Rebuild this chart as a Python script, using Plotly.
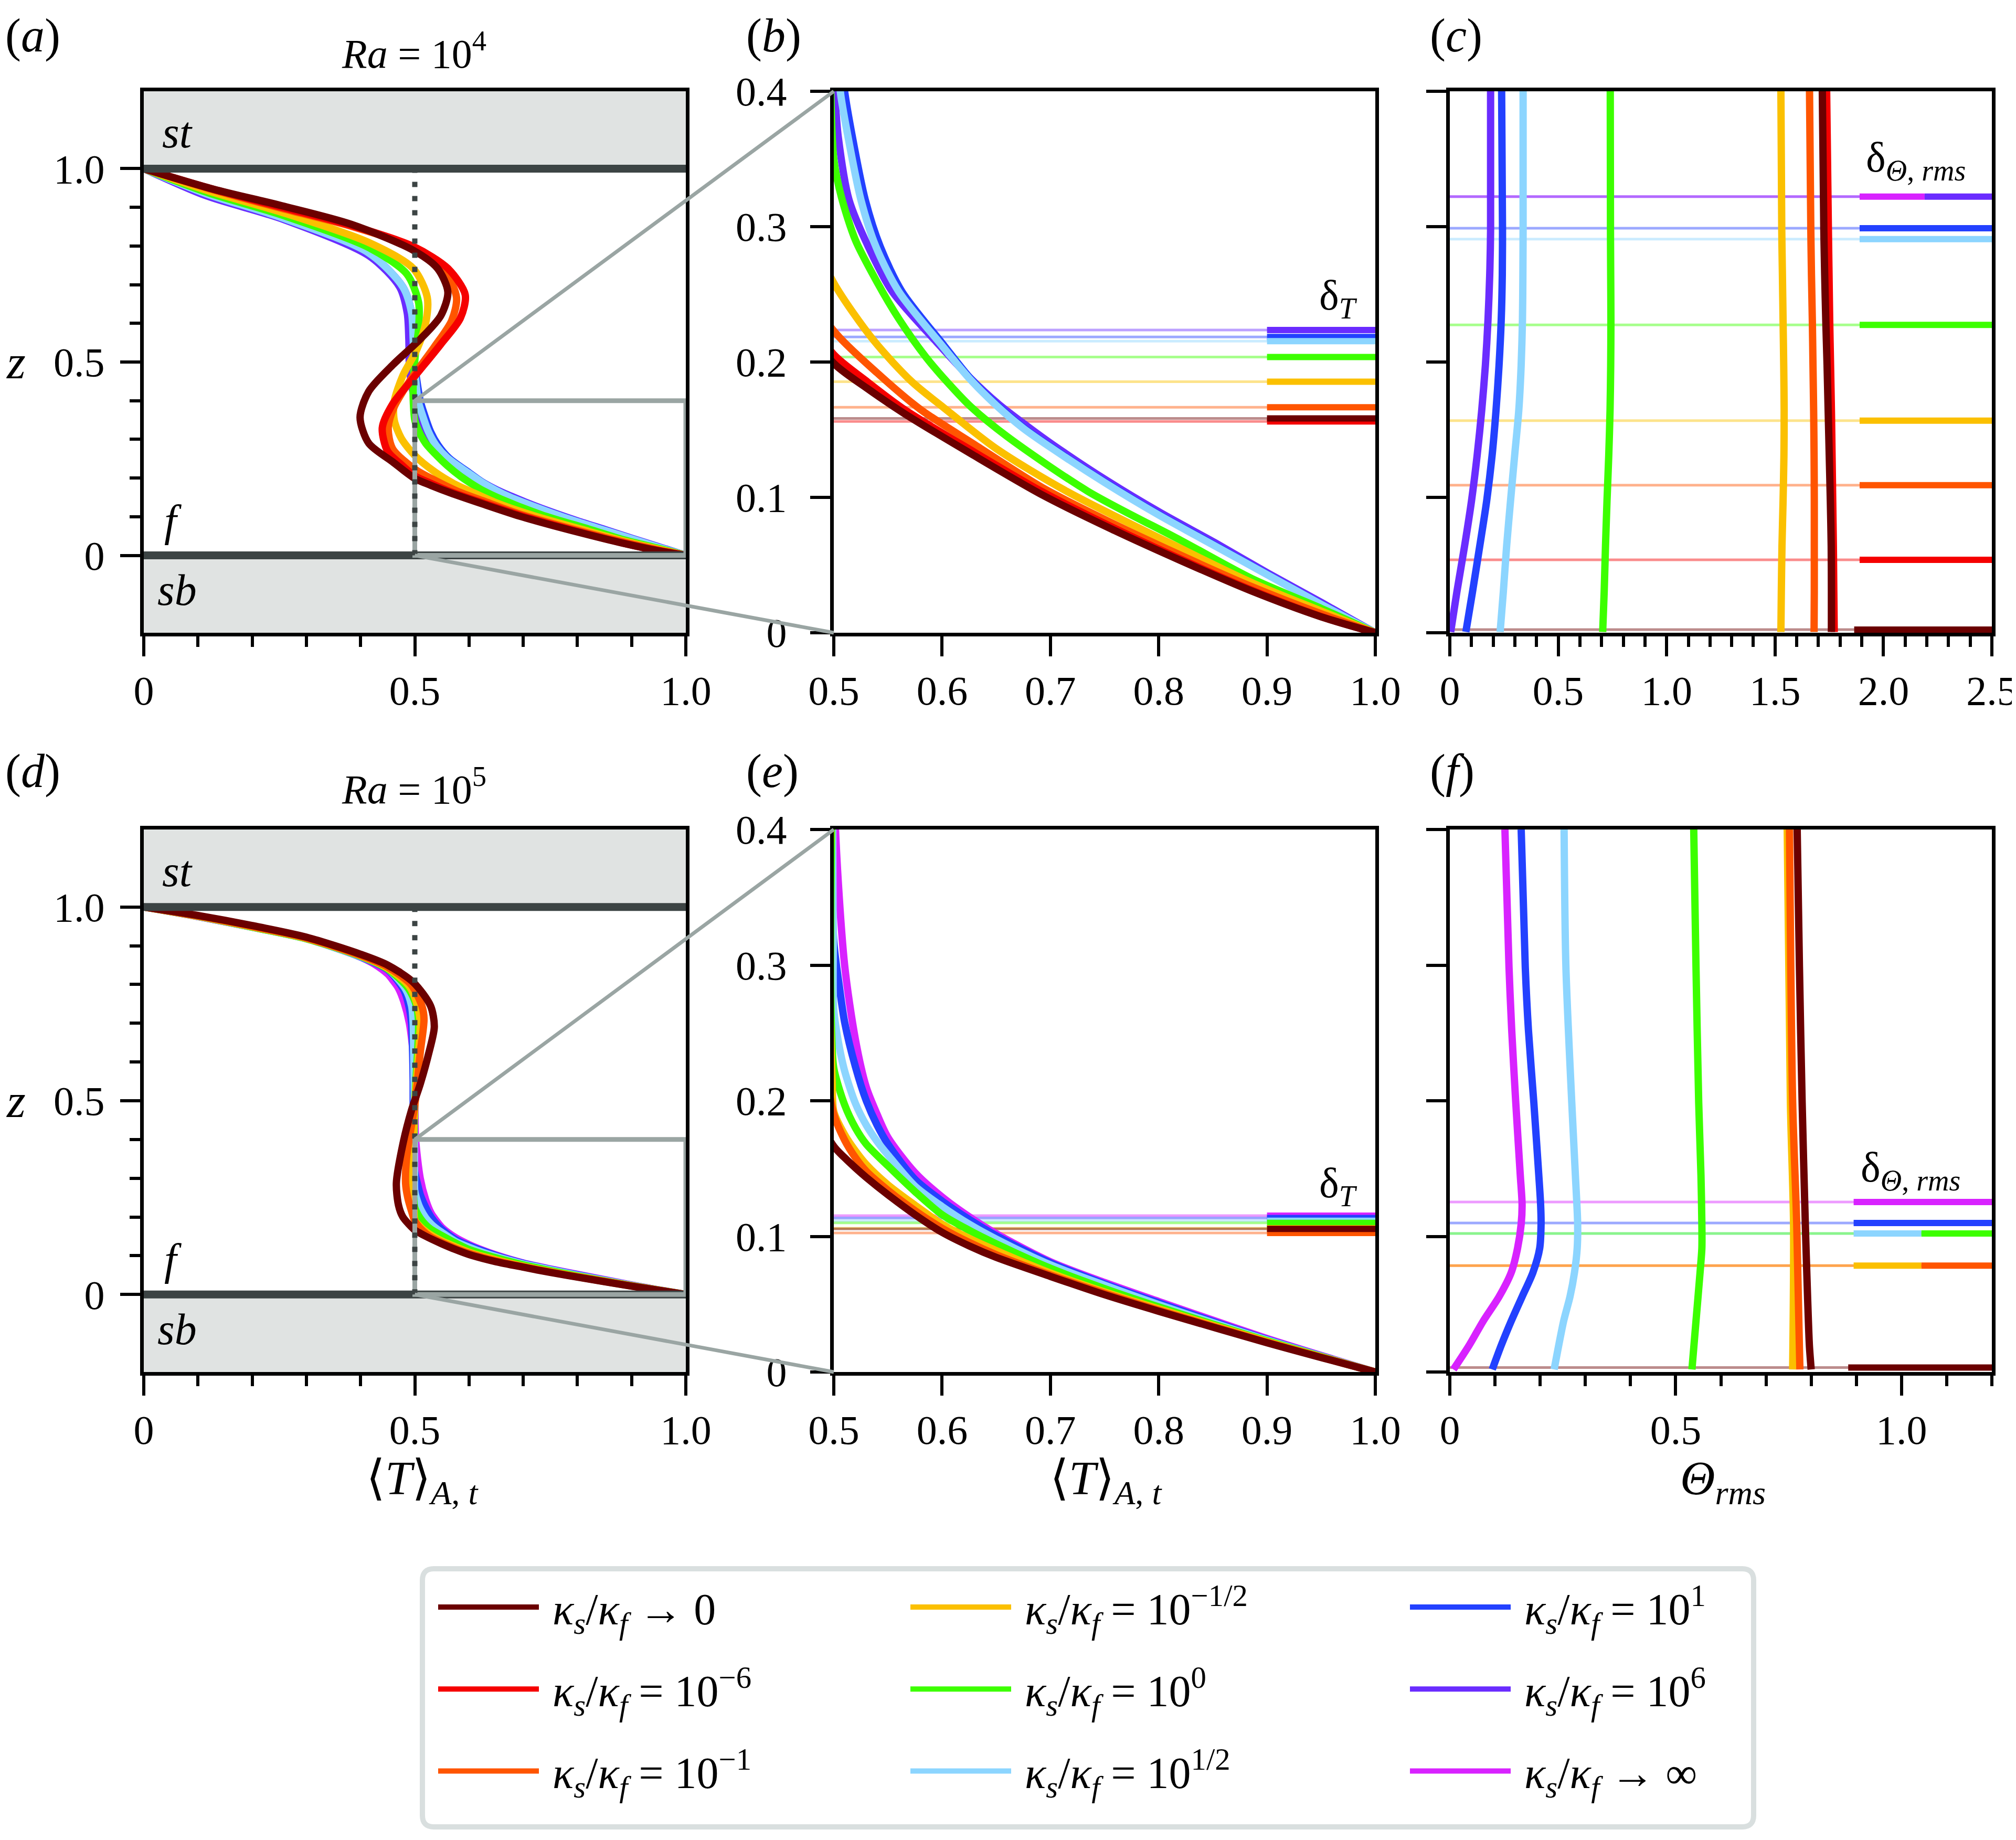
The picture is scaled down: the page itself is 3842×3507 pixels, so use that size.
import plotly.graph_objects as go

W, H = 3842, 3507
FONT = "Liberation Serif, DejaVu Serif, serif"

# ---------------- cases (kappa_s / kappa_f) ----------------
case_colors = ["#6b0000", "#f50000", "#ff5500", "#fbc000", "#3cff00",
               "#8cd5ff", "#2341ff", "#6a2cff", "#d822ff"]
K = "<i>κ</i><sub><i>s</i></sub>/<i>κ</i><sub><i>f</i></sub>"
case_labels = [K + " → 0", K + " = 10<sup>−6</sup>", K + " = 10<sup>−1</sup>",
               K + " = 10<sup>−1/2</sup>", K + " = 10<sup>0</sup>", K + " = 10<sup>1/2</sup>",
               K + " = 10<sup>1</sup>", K + " = 10<sup>6</sup>", K + " → ∞"]

# ---------------- Ra = 10^4 : <T>_{A,t}(z) ----------------
ra4_k0_z = [1.0, 0.947, 0.904, 0.856, 0.789, 0.742, 0.681, 0.620, 0.559, 0.492, 0.424, 0.357, 0.290, 0.242, 0.199, 0.181, 0.162, 0.1314, 0.1017, 0.0764, 0.053, 0.0309, 0.0118, 0.0]
ra4_k0_T = [0.0, 0.128, 0.255, 0.383, 0.497, 0.542, 0.561, 0.548, 0.510, 0.459, 0.415, 0.399, 0.415, 0.459, 0.500, 0.530, 0.565, 0.6285, 0.6928, 0.757, 0.8213, 0.8856, 0.9499, 1.0]
ra4_km6_z = [1.0, 0.948, 0.900, 0.853, 0.799, 0.742, 0.674, 0.613, 0.546, 0.458, 0.391, 0.330, 0.269, 0.235, 0.2055, 0.186, 0.165, 0.134, 0.104, 0.078, 0.054, 0.0315, 0.012, 0.0]
ra4_km6_T = [0.0, 0.125, 0.255, 0.383, 0.497, 0.561, 0.593, 0.584, 0.548, 0.497, 0.459, 0.440, 0.450, 0.475, 0.500, 0.530, 0.565, 0.6285, 0.6928, 0.757, 0.8213, 0.8856, 0.9499, 1.0]
ra4_km1_z = [1.0, 0.947, 0.897, 0.851, 0.796, 0.735, 0.667, 0.607, 0.539, 0.452, 0.384, 0.330, 0.276, 0.223, 0.192, 0.165, 0.139, 0.107, 0.081, 0.057, 0.034, 0.014, 0.0]
ra4_km1_T = [0.0, 0.124, 0.255, 0.383, 0.497, 0.555, 0.577, 0.568, 0.536, 0.491, 0.462, 0.451, 0.459, 0.500, 0.540, 0.580, 0.630, 0.693, 0.757, 0.821, 0.886, 0.950, 1.0]
ra4_km05_z = [1.0, 0.942, 0.887, 0.809, 0.742, 0.667, 0.600, 0.533, 0.465, 0.398, 0.350, 0.303, 0.2584, 0.2158, 0.1855, 0.1666, 0.136, 0.1045, 0.062, 0.037, 0.016, 0.0]
ra4_km05_T = [0.0, 0.120, 0.255, 0.415, 0.497, 0.523, 0.520, 0.504, 0.478, 0.462, 0.462, 0.475, 0.500, 0.537, 0.572, 0.601, 0.650, 0.715, 0.821, 0.886, 0.950, 1.0]
ra4_k00_z = [1.0, 0.938, 0.880, 0.796, 0.728, 0.654, 0.587, 0.519, 0.438, 0.390, 0.350, 0.322, 0.290, 0.259, 0.232, 0.2037, 0.1855, 0.1666, 0.145, 0.1045, 0.068, 0.040, 0.018, 0.0]
ra4_k00_T = [0.0, 0.118, 0.255, 0.415, 0.485, 0.507, 0.507, 0.501, 0.497, 0.4975, 0.500, 0.507, 0.520, 0.540, 0.560, 0.585, 0.6044, 0.627, 0.660, 0.7346, 0.821, 0.886, 0.950, 1.0]
ra4_kp05_z = [1.0, 0.935, 0.873, 0.782, 0.694, 0.627, 0.559, 0.492, 0.450, 0.400, 0.367, 0.320, 0.285, 0.252, 0.212, 0.188, 0.168, 0.151, 0.137, 0.111, 0.087, 0.065, 0.043, 0.021, 0.0]
ra4_kp05_T = [0.0, 0.115, 0.255, 0.415, 0.478, 0.494, 0.497, 0.499, 0.502, 0.506, 0.513, 0.525, 0.539, 0.560, 0.600, 0.625, 0.650, 0.675, 0.700, 0.750, 0.800, 0.850, 0.900, 0.950, 1.0]
ra4_kp1_z = [1.0, 0.935, 0.873, 0.782, 0.694, 0.627, 0.559, 0.492, 0.450, 0.400, 0.367, 0.320, 0.285, 0.252, 0.212, 0.188, 0.168, 0.151, 0.137, 0.1115, 0.0875, 0.0655, 0.0433, 0.0212, 0.0]
ra4_kp1_T = [0.0, 0.115, 0.255, 0.415, 0.478, 0.494, 0.497, 0.500, 0.504, 0.510, 0.517, 0.529, 0.543, 0.563, 0.602, 0.626, 0.651, 0.676, 0.701, 0.750, 0.800, 0.850, 0.900, 0.950, 1.0]
ra4_kp6_z = [1.0, 0.930, 0.870, 0.775, 0.694, 0.627, 0.559, 0.492, 0.440, 0.400, 0.367, 0.320, 0.285, 0.252, 0.212, 0.189, 0.169, 0.153, 0.1385, 0.1125, 0.0885, 0.0665, 0.044, 0.022, 0.0]
ra4_kp6_T = [0.0, 0.115, 0.255, 0.415, 0.472, 0.486, 0.489, 0.490, 0.494, 0.5005, 0.504, 0.514, 0.532, 0.554, 0.598, 0.625, 0.652, 0.678, 0.703, 0.752, 0.802, 0.852, 0.901, 0.951, 1.0]

# ---------------- Ra = 10^4 : Theta_rms(z) ----------------
ra4_th_z = [0.0006, 0.0306, 0.064, 0.0974, 0.131, 0.1641, 0.1975, 0.2308, 0.2642, 0.2975, 0.4]
ra4_th_k0 = [1.760, 1.760, 1.759, 1.755, 1.750, 1.745, 1.740, 1.734, 1.729, 1.725, 1.718]
ra4_th_km6 = [1.773, 1.771, 1.769, 1.766, 1.763, 1.760, 1.756, 1.752, 1.749, 1.746, 1.738]
ra4_th_km1 = [1.680, 1.681, 1.681, 1.681, 1.680, 1.678, 1.675, 1.672, 1.668, 1.665, 1.659]
ra4_th_km05 = [1.527, 1.529, 1.532, 1.537, 1.541, 1.542, 1.540, 1.537, 1.534, 1.531, 1.527]
ra4_th_k00 = [0.705, 0.712, 0.718, 0.725, 0.733, 0.739, 0.742, 0.743, 0.742, 0.741, 0.740]
ra4_th_kp05 = [0.232, 0.247, 0.262, 0.280, 0.299, 0.318, 0.329, 0.335, 0.337, 0.338, 0.338]
ra4_th_kp1 = [0.074, 0.105, 0.138, 0.170, 0.195, 0.213, 0.227, 0.237, 0.242, 0.243, 0.239]
ra4_th_kp6 = [0.004, 0.033, 0.068, 0.100, 0.126, 0.147, 0.164, 0.176, 0.184, 0.188, 0.188]

# boundary-layer thicknesses (Ra = 10^4), order: ->0, -6, -1, -1/2, 0, 1/2, 1, 6, ->inf
ra4_delta_T = [0.1583, 0.1561, 0.1666, 0.1855, 0.2037, 0.2154, 0.2185, 0.2236, None]
ra4_delta_Th = [0.0023, 0.0539, 0.1090, 0.1567, 0.2274, 0.2908, 0.2988, 0.3222, 0.3222]

# ---------------- Ra = 10^5 : <T>_{A,t}(z) ----------------
ra5_k0_z = [1.0, 0.978, 0.952, 0.922, 0.878, 0.850, 0.806, 0.745, 0.691, 0.624, 0.543, 0.476, 0.388, 0.287, 0.230, 0.200, 0.1664, 0.158, 0.1505, 0.1435, 0.1307, 0.116, 0.103, 0.093, 0.0845, 0.0705, 0.057, 0.0448, 0.0216, 0.0]
ra5_k0_T = [0.0, 0.1, 0.2, 0.3, 0.4, 0.45, 0.497, 0.529, 0.536, 0.526, 0.510, 0.494, 0.478, 0.466, 0.470, 0.478, 0.5, 0.51, 0.52, 0.53, 0.55, 0.575, 0.6, 0.625, 0.65, 0.7, 0.75, 0.8, 0.9, 1.0]
ra5_km1_z = [1.0, 0.977, 0.950, 0.920, 0.875, 0.845, 0.800, 0.745, 0.711, 0.624, 0.550, 0.489, 0.420, 0.355, 0.287, 0.250, 0.215, 0.190, 0.171, 0.158, 0.148, 0.134, 0.119, 0.106, 0.0955, 0.0865, 0.0715, 0.058, 0.0455, 0.022, 0.0]
ra5_km1_T = [0.0, 0.1, 0.2, 0.3, 0.4, 0.45, 0.493, 0.513, 0.517, 0.510, 0.505, 0.500, 0.492, 0.485, 0.483, 0.487, 0.494, 0.5, 0.51, 0.52, 0.53, 0.55, 0.575, 0.6, 0.625, 0.65, 0.7, 0.75, 0.8, 0.9, 1.0]
ra5_km05_z = [1.0, 0.976, 0.949, 0.919, 0.874, 0.842, 0.795, 0.745, 0.700, 0.624, 0.550, 0.490, 0.400, 0.300, 0.250, 0.215, 0.192, 0.175, 0.163, 0.153, 0.138, 0.123, 0.109, 0.0985, 0.0895, 0.073, 0.059, 0.0465, 0.0225, 0.0]
ra5_km05_T = [0.0, 0.1, 0.2, 0.3, 0.4, 0.45, 0.490, 0.505, 0.510, 0.507, 0.503, 0.500, 0.497, 0.4955, 0.497, 0.4985, 0.5, 0.51, 0.52, 0.53, 0.55, 0.575, 0.6, 0.625, 0.65, 0.7, 0.75, 0.8, 0.9, 1.0]
ra5_k00_z = [1.0, 0.976, 0.948, 0.918, 0.873, 0.840, 0.790, 0.745, 0.700, 0.624, 0.550, 0.490, 0.400, 0.300, 0.250, 0.224, 0.197, 0.180, 0.168, 0.152, 0.133, 0.116, 0.1045, 0.0945, 0.0765, 0.0615, 0.048, 0.023, 0.0]
ra5_k00_T = [0.0, 0.1, 0.2, 0.3, 0.4, 0.45, 0.488, 0.503, 0.507, 0.505, 0.502, 0.500, 0.498, 0.497, 0.498, 0.5, 0.51, 0.52, 0.53, 0.55, 0.575, 0.6, 0.625, 0.65, 0.7, 0.75, 0.8, 0.9, 1.0]
ra5_kp05_z = [1.0, 0.976, 0.948, 0.918, 0.872, 0.840, 0.788, 0.745, 0.700, 0.624, 0.500, 0.400, 0.320, 0.267, 0.240, 0.222, 0.198, 0.182, 0.170, 0.160, 0.137, 0.122, 0.109, 0.098, 0.079, 0.064, 0.0497, 0.0236, 0.0]
ra5_kp05_T = [0.0, 0.1, 0.2, 0.3, 0.4, 0.45, 0.483, 0.494, 0.497, 0.498, 0.499, 0.499, 0.4995, 0.5, 0.505, 0.51, 0.52, 0.53, 0.54, 0.55, 0.575, 0.6, 0.625, 0.65, 0.7, 0.75, 0.8, 0.9, 1.0]
ra5_kp1_z = [1.0, 0.9755, 0.948, 0.918, 0.871, 0.838, 0.785, 0.745, 0.700, 0.624, 0.550, 0.450, 0.370, 0.317, 0.285, 0.258, 0.225, 0.200, 0.182, 0.168, 0.142, 0.126, 0.1125, 0.1005, 0.0805, 0.065, 0.051, 0.024, 0.0]
ra5_kp1_T = [0.0, 0.1, 0.2, 0.3, 0.4, 0.45, 0.480, 0.489, 0.494, 0.496, 0.497, 0.497, 0.498, 0.5, 0.505, 0.51, 0.52, 0.53, 0.54, 0.55, 0.575, 0.6, 0.625, 0.65, 0.7, 0.75, 0.8, 0.9, 1.0]
ra5_kinf_z = [1.0, 0.9753, 0.948, 0.9187, 0.898, 0.871, 0.853, 0.827, 0.810, 0.790, 0.755, 0.700, 0.600, 0.500, 0.400, 0.300, 0.245, 0.210, 0.190, 0.173, 0.147, 0.129, 0.1145, 0.102, 0.0813, 0.066, 0.052, 0.0247, 0.0]
ra5_kinf_T = [0.0, 0.1, 0.2, 0.3, 0.35, 0.4, 0.425, 0.45, 0.46, 0.47, 0.48, 0.49, 0.4984, 0.5, 0.5016, 0.51, 0.52, 0.53, 0.54, 0.55, 0.575, 0.6, 0.625, 0.65, 0.7, 0.75, 0.8, 0.9, 1.0]

# ---------------- Ra = 10^5 : Theta_rms(z) ----------------
ra5_th_k0_z = [0.0019, 0.0198, 0.0555, 0.1092, 0.1986, 0.2988, 0.4]
ra5_th_k0 = [0.800, 0.796, 0.792, 0.787, 0.780, 0.774, 0.769]
ra5_th_km1_z = [0.0019, 0.1092, 0.1986, 0.4]
ra5_th_km1 = [0.775, 0.768, 0.759, 0.752]
ra5_th_km05_z = [0.0019, 0.1092, 0.1986, 0.4]
ra5_th_km05 = [0.759, 0.761, 0.754, 0.747]
ra5_th_k00_z = [0.0019, 0.0376, 0.0734, 0.0913, 0.1092, 0.145, 0.1986, 0.2988, 0.4]
ra5_th_k00 = [0.536, 0.545, 0.554, 0.558, 0.558, 0.556, 0.551, 0.545, 0.540]
ra5_th_kp05_z = [0.0019, 0.0376, 0.0555, 0.0734, 0.0913, 0.1092, 0.145, 0.1986, 0.2988, 0.4]
ra5_th_kp05 = [0.231, 0.252, 0.266, 0.276, 0.282, 0.283, 0.278, 0.270, 0.257, 0.253]
ra5_th_kp1_z = [0.0019, 0.0198, 0.0376, 0.0555, 0.0734, 0.0913, 0.1092, 0.1235, 0.145, 0.1986, 0.2523, 0.2988, 0.4]
ra5_th_kp1 = [0.094, 0.114, 0.136, 0.160, 0.184, 0.199, 0.202, 0.201, 0.197, 0.186, 0.174, 0.167, 0.158]
ra5_th_kinf_z = [0.0019, 0.0198, 0.0376, 0.0555, 0.0734, 0.0913, 0.1092, 0.1235, 0.145, 0.1986, 0.2523, 0.2988, 0.4]
ra5_th_kinf = [0.008, 0.043, 0.074, 0.109, 0.136, 0.150, 0.158, 0.160, 0.156, 0.146, 0.137, 0.131, 0.122]

ra5_delta_T = [0.1055, None, 0.1025, 0.1060, 0.1100, 0.1115, 0.1135, None, 0.1153]
ra5_delta_Th = [0.0033, None, 0.0784, 0.0784, 0.1021, 0.1021, 0.1099, None, 0.1253]

# extents of the short delta markers on the right of panels (c) and (f)
ra4_mark_lo = [1.865, 1.89, 1.89, 1.89, 1.89, 1.89, 1.89, 2.19, 1.89]
ra4_mark_hi = [2.5, 2.5, 2.5, 2.5, 2.5, 2.5, 2.5, 2.5, 2.19]
ra5_mark_lo = [0.882, None, 1.044, 0.894, 1.044, 0.894, 0.894, None, 0.894]
ra5_mark_hi = [1.2, None, 1.2, 1.044, 1.2, 1.044, 1.2, None, 1.2]

# tick values / labels
tick_a_vals = [0, 0.5, 1.0]
tick_a_text = ["0", "0.5", "1.0"]
tick_b_vals = [0.5, 0.6, 0.7, 0.8, 0.9, 1.0]
tick_b_text = ["0.5", "0.6", "0.7", "0.8", "0.9", "1.0"]
tick_z_vals = [0, 0.1, 0.2, 0.3, 0.4]
tick_z_text = ["0", "0.1", "0.2", "0.3", "0.4"]
tick_c_vals = [0, 0.5, 1.0, 1.5, 2.0, 2.5]
tick_c_text = ["0", "0.5", "1.0", "1.5", "2.0", "2.5"]

# ---------------- assemble tables ----------------
ra4_prof = [(ra4_k0_T, ra4_k0_z), (ra4_km6_T, ra4_km6_z), (ra4_km1_T, ra4_km1_z),
            (ra4_km05_T, ra4_km05_z), (ra4_k00_T, ra4_k00_z), (ra4_kp05_T, ra4_kp05_z),
            (ra4_kp1_T, ra4_kp1_z), (ra4_kp6_T, ra4_kp6_z), None]
ra4_theta = [(ra4_th_k0, ra4_th_z), (ra4_th_km6, ra4_th_z), (ra4_th_km1, ra4_th_z),
             (ra4_th_km05, ra4_th_z), (ra4_th_k00, ra4_th_z), (ra4_th_kp05, ra4_th_z),
             (ra4_th_kp1, ra4_th_z), (ra4_th_kp6, ra4_th_z), None]
ra5_prof = [(ra5_k0_T, ra5_k0_z), None, (ra5_km1_T, ra5_km1_z), (ra5_km05_T, ra5_km05_z),
            (ra5_k00_T, ra5_k00_z), (ra5_kp05_T, ra5_kp05_z), (ra5_kp1_T, ra5_kp1_z), None,
            (ra5_kinf_T, ra5_kinf_z)]
ra5_theta = [(ra5_th_k0, ra5_th_k0_z), None, (ra5_th_km1, ra5_th_km1_z), (ra5_th_km05, ra5_th_km05_z),
             (ra5_th_k00, ra5_th_k00_z), (ra5_th_kp05, ra5_th_kp05_z), (ra5_th_kp1, ra5_th_kp1_z), None,
             (ra5_th_kinf, ra5_th_kinf_z)]

rows = [
    dict(prof=ra4_prof, theta=ra4_theta, dT=ra4_delta_T, dTh=ra4_delta_Th,
         lo=ra4_mark_lo, hi=ra4_mark_hi, thmax=2.5),
    dict(prof=ra5_prof, theta=ra5_theta, dT=ra5_delta_T, dTh=ra5_delta_Th,
         lo=ra5_mark_lo, hi=ra5_mark_hi, thmax=1.2),
]

# ---------------- layout geometry (pixels) ----------------
col_px = [(266, 1299), (1581, 2613), (2755, 3788)]
row_px = [(166, 1198), (1573, 2607)]
x_ranges = [[0, 1], [0.5, 1.0], [0, 2.5], [0, 1], [0.5, 1.0], [0, 1.2]]
y_ranges = [[-0.2, 1.2], [0, 0.4], [0, 0.4], [-0.2, 1.2], [0, 0.4], [0, 0.4]]
x_ticks = [(tick_a_vals, tick_a_text), (tick_b_vals, tick_b_text), (tick_c_vals, tick_c_text),
           (tick_a_vals, tick_a_text), (tick_b_vals, tick_b_text), (tick_a_vals, tick_a_text)]

LW = 14
fig = go.Figure()


def axn(p):
    return ("x" if p == 0 else f"x{p+1}"), ("y" if p == 0 else f"y{p+1}")


def rgba(hexc, a):
    h = hexc.lstrip("#")
    return f"rgba({int(h[0:2],16)},{int(h[2:4],16)},{int(h[4:6],16)},{a})"


def add_line(p, xs, ys, color, width, shape="linear"):
    xa, ya = axn(p)
    fig.add_trace(go.Scatter(x=xs, y=ys, mode="lines",
                             line=dict(color=color, width=width, shape=shape, smoothing=0.8),
                             xaxis=xa, yaxis=ya, showlegend=False, hoverinfo="skip"))


order = list(range(len(case_colors)))[::-1]
for r, row in enumerate(rows):
    pa, pb, pc = 3 * r, 3 * r + 1, 3 * r + 2
    for i in order:
        c = case_colors[i]
        if row["dT"][i] is not None:
            add_line(pb, [0.5, 1.0], [row["dT"][i]] * 2, rgba(c, 0.45), 5)
        if row["dTh"][i] is not None:
            add_line(pc, [0, row["thmax"]], [row["dTh"][i]] * 2, rgba(c, 0.45), 5)
    for i in order:
        c = case_colors[i]
        if row["prof"][i] is not None:
            T, z = row["prof"][i]
            add_line(pa, T, z, c, LW, "spline")
            add_line(pb, T, z, c, LW, "spline")
        if row["theta"][i] is not None:
            th, z = row["theta"][i]
            add_line(pc, th, z, c, LW, "spline")
    for i in order:
        c = case_colors[i]
        if row["dT"][i] is not None:
            add_line(pb, [0.9, 1.0], [row["dT"][i]] * 2, c, 12)
        if row["dTh"][i] is not None and row["lo"][i] is not None:
            add_line(pc, [row["lo"][i], row["hi"][i]], [row["dTh"][i]] * 2, c, 12)

# legend entries (three columns -> three legends)
legend_ids = ["legend", "legend2", "legend3"]
for i, (c, lab) in enumerate(zip(case_colors, case_labels)):
    fig.add_trace(go.Scatter(x=[None], y=[None], mode="lines", line=dict(color=c, width=16),
                             name="\u00a0" + lab, legend=legend_ids[i // 3], legendgroup=f"g{i}",
                             showlegend=True, xaxis="x", yaxis="y", hoverinfo="skip"))

# ---------------- axes ----------------
layout_axes = {}
tick_font = dict(family=FONT, size=78, color="black")
minor_style = dict(ticks="outside", ticklen=20, tickwidth=6, tickcolor="black")
for p in range(6):
    col, row = p % 3, p // 3
    x0, x1 = col_px[col]
    y0, y1 = row_px[row]
    xa, ya = axn(p)
    xkey = "xaxis" if p == 0 else f"xaxis{p+1}"
    ykey = "yaxis" if p == 0 else f"yaxis{p+1}"
    common = dict(showline=True, linecolor="black", linewidth=7, mirror=True,
                  ticks="outside", tickwidth=6, ticklen=38, tickcolor="black",
                  showgrid=False, zeroline=False, tickfont=tick_font, fixedrange=True)
    tv, tt = x_ticks[p]
    xd = dict(common, domain=[x0 / W, x1 / W], range=x_ranges[p], anchor=ya,
              tickmode="array", tickvals=tv, showticklabels=False)
    yd = dict(common, domain=[1 - y1 / H, 1 - y0 / H], range=y_ranges[p], anchor=xa,
              ticklabelstandoff=(14 if col == 0 else 29))
    if col == 0:
        mv = [0.1, 0.2, 0.3, 0.4, 0.6, 0.7, 0.8, 0.9]
        xd.update(minor=dict(minor_style, tickmode="array", tickvals=mv))
        yd.update(tickmode="array", tickvals=tick_a_vals, ticktext=tick_a_text,
                  minor=dict(minor_style, tickmode="array", tickvals=mv))
    elif col == 1:
        yd.update(tickmode="array", tickvals=tick_z_vals, ticktext=tick_z_text)
    else:
        yd.update(tickmode="array", tickvals=tick_z_vals, showticklabels=False)
        if row == 0:
            xd.update(minor=dict(minor_style, tickmode="array",
                                 tickvals=[v / 10 for v in range(1, 25) if v % 5]))
        else:
            xd.update(minor=dict(minor_style, tickmode="array",
                                 tickvals=[0.1, 0.2, 0.3, 0.4, 0.6, 0.7, 0.8, 0.9, 1.1, 1.2]))
    layout_axes[xkey] = xd
    layout_axes[ykey] = yd
    # companion axis carrying the x tick labels (no tick marks, no line)
    lk = f"xaxis{p+7}"
    layout_axes[lk] = dict(overlaying=xa, anchor=ya, side="bottom", range=x_ranges[p],
                           tickmode="array", tickvals=tv, ticktext=tt, ticks="",
                           showline=False, showgrid=False, zeroline=False,
                           tickfont=tick_font, fixedrange=True, ticklabelstandoff=58)
    fig.add_trace(go.Scatter(x=[None], y=[None], mode="lines", xaxis=f"x{p+7}", yaxis=ya,
                             showlegend=False, hoverinfo="skip"))


def paper_pt(p, x, y):
    col, row = p % 3, p // 3
    x0, x1 = col_px[col]
    y0, y1 = row_px[row]
    rx, ry = x_ranges[p], y_ranges[p]
    px = x0 + (x - rx[0]) / (rx[1] - rx[0]) * (x1 - x0)
    py = y1 - (y - ry[0]) / (ry[1] - ry[0]) * (y1 - y0)
    return px / W, 1 - py / H


def P(xpx, ypx):
    return xpx / W, 1 - ypx / H


shapes = []
WALL = "#3c4444"
ZOOM = "#9aa5a3"
for pa in (0, 3):
    xa, ya = axn(pa)
    shapes += [
        dict(type="rect", xref=xa, yref=ya, x0=0, x1=1, y0=1, y1=1.2, fillcolor="#e0e3e2",
             line=dict(width=0), layer="below"),
        dict(type="rect", xref=xa, yref=ya, x0=0, x1=1, y0=-0.2, y1=0, fillcolor="#e0e3e2",
             line=dict(width=0), layer="below"),
        dict(type="line", xref=xa, yref=ya, x0=0, x1=1, y0=1, y1=1, line=dict(color=WALL, width=15), layer="above"),
        dict(type="line", xref=xa, yref=ya, x0=0, x1=1, y0=0, y1=0, line=dict(color=WALL, width=15), layer="above"),
        dict(type="rect", xref=xa, yref=ya, x0=0.5, x1=1.0, y0=0, y1=0.4,
             line=dict(color=ZOOM, width=9), fillcolor="rgba(0,0,0,0)", layer="above"),
        dict(type="line", xref=xa, yref=ya, x0=0.5, x1=0.5, y0=0, y1=1,
             line=dict(color=WALL, width=10, dash="10px,17px"), layer="above"),
    ]
    for zz in (0.4, 0.0):
        xs, ys = paper_pt(pa, 0.5, zz)
        xe, ye = paper_pt(pa + 1, 0.5, zz)
        shapes.append(dict(type="line", xref="paper", yref="paper", x0=xs, y0=ys, x1=xe, y1=ye,
                           line=dict(color=ZOOM, width=7), layer="above"))

# legend frame (rounded)
lx0, ly0 = P(797, 2982)
lx1, ly1 = P(3334, 3474)
rx, ry = 22 / W, 22 / H
path = (f"M{lx0+rx},{ly0} L{lx1-rx},{ly0} Q{lx1},{ly0} {lx1},{ly0-ry} "
        f"L{lx1},{ly1+ry} Q{lx1},{ly1} {lx1-rx},{ly1} L{lx0+rx},{ly1} Q{lx0},{ly1} {lx0},{ly1+ry} "
        f"L{lx0},{ly0-ry} Q{lx0},{ly0} {lx0+rx},{ly0} Z")
shapes.append(dict(type="path", xref="paper", yref="paper", path=path,
                   line=dict(color="#d9dfdf", width=10), fillcolor="white", layer="below"))

# ---------------- annotations ----------------
ann = []


def A(text, x, y, size, xanchor="center", yanchor="middle", xref="paper", yref="paper"):
    ann.append(dict(text=text, x=x, y=y, xref=xref, yref=yref, xanchor=xanchor, yanchor=yanchor,
                    showarrow=False, font=dict(family=FONT, size=size, color="black")))


for lab, xpx, ypx in [("a", 0, 60), ("b", 1412, 60), ("c", 2715, 60),
                      ("d", 0, 1462), ("e", 1412, 1462), ("f", 2715, 1462)]:
    A(f"(<i>{lab}</i>)", *P(xpx, ypx), 90, xanchor="left")

A("<i>Ra</i> = 10<sup>4</sup>", *P(781, 88), 78)
A("<i>Ra</i> = 10<sup>5</sup>", *P(781, 1490), 78)
A("<i>z</i>", *P(22, 682), 92)
A("<i>z</i>", *P(22, 2090), 92)
A("⟨<i>T</i>⟩<sub><i>A</i>, <i>t</i></sub>", *P(797, 2815), 92)
A("⟨<i>T</i>⟩<sub><i>A</i>, <i>t</i></sub>", *P(2100, 2815), 92)
A("<i>Θ</i><sub><i>rms</i></sub>", *P(3275, 2815), 92)

for pa in (0, 3):
    xa, ya = axn(pa)
    A("<i>st</i>", 0.032, 1.093, 84, xanchor="left", xref=xa, yref=ya)
    A("<i>f</i>", 0.036, 0.09, 84, xanchor="left", xref=xa, yref=ya)
    A("<i>sb</i>", 0.023, -0.09, 84, xanchor="left", xref=xa, yref=ya)

A("δ<sub><i>T</i></sub>", 0.966, 0.247, 80, xref="x2", yref="y2")
A("δ<sub><i>T</i></sub>", 0.966, 0.137, 80, xref="x5", yref="y5")
A("δ<sub><i>Θ</i>, <i>rms</i></sub>", 2.15, 0.349, 80, xref="x3", yref="y3")
A("δ<sub><i>Θ</i>, <i>rms</i></sub>", 1.02, 0.1485, 80, xref="x6", yref="y6")

# ---------------- legends ----------------
leg_common = dict(xanchor="left", yanchor="top", orientation="v", bgcolor="rgba(0,0,0,0)",
                  borderwidth=0, font=dict(family=FONT, size=84, color="black"),
                  itemwidth=192, tracegroupgap=44, traceorder="grouped")
legs = {}
for lid, xpx in zip(legend_ids, [822, 1722, 2674]):
    lx, ly = P(xpx, 2994)
    legs[lid] = dict(leg_common, x=lx, y=ly)

fig.update_layout(
    width=W, height=H, autosize=False,
    margin=dict(l=0, r=0, t=0, b=0, pad=0, autoexpand=False),
    paper_bgcolor="white", plot_bgcolor="white",
    font=dict(family=FONT, size=78, color="black"),
    shapes=shapes, annotations=ann, showlegend=True,
    **layout_axes, **legs,
)

fig.write_html("out.html")
